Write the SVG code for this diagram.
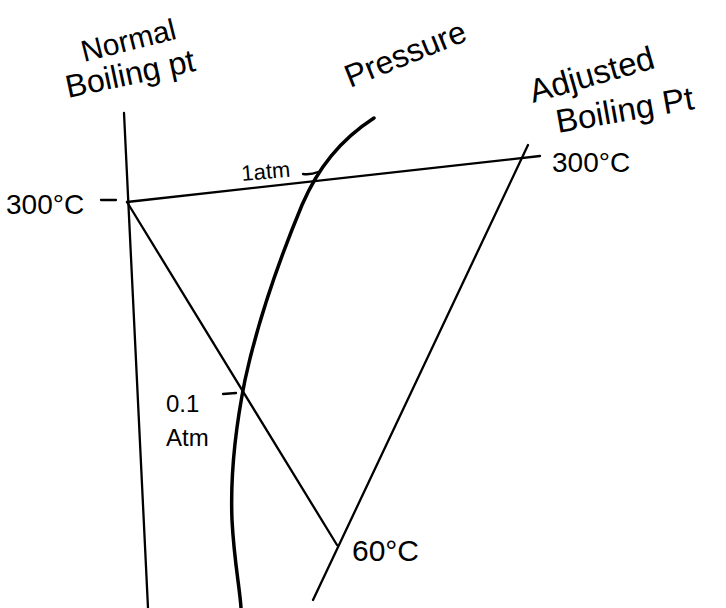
<svg xmlns="http://www.w3.org/2000/svg" width="726" height="608" viewBox="0 0 726 608">
<style>
.ln{stroke:#000;stroke-width:2.3;fill:none;stroke-linecap:round}
.thick{stroke:#000;stroke-width:3.5;fill:none;stroke-linecap:round}
.t{font-family:"Liberation Sans","DejaVu Sans",sans-serif;fill:#000}
</style>
<rect width="726" height="608" fill="#fff"/>
<g id="connectors">
<line class="ln" x1="127" y1="202" x2="540" y2="156"/>
<line class="ln" x1="127" y1="202" x2="337" y2="545"/>
<line class="ln" x1="101" y1="200" x2="116" y2="200"/>
<line class="ln" x1="223" y1="394" x2="236" y2="393"/>
<path class="ln" d="M303 174 Q311 175 318 172"/>
</g>
<g id="normal-axis">
<line class="ln" x1="124" y1="113" x2="148" y2="608"/>
<text class="t" font-size="30" transform="translate(84,62) rotate(-14)">Normal</text>
<text class="t" font-size="32" transform="translate(68,98) rotate(-12)">Boiling pt</text>
<text class="t" font-size="28" x="6" y="214">300°C</text>
</g>
<g id="pressure-axis">
<path class="thick" d="M374 118 C340 140 318 168 302 205 C280 258 258 320 245 380 C236 425 230 470 232 520 C234 560 240 590 241 608"/>
<text class="t" font-size="22" transform="translate(242,181) rotate(-5)">1atm</text>
<text class="t" font-size="32" transform="translate(350,88) rotate(-22)">Pressure</text>
<text class="t" font-size="24" x="166" y="412">0.1</text>
<text class="t" font-size="24" x="166" y="446">Atm</text>
</g>
<g id="adjusted-axis">
<line class="ln" x1="528" y1="145" x2="313" y2="600"/>
<text class="t" font-size="33" transform="translate(533,103) rotate(-16)">Adjusted</text>
<text class="t" font-size="33" transform="translate(558,133) rotate(-10)">Boiling Pt</text>
<text class="t" font-size="28" x="552" y="172">300°C</text>
<text class="t" font-size="30" x="352" y="561">60°C</text>
</g>
</svg>
